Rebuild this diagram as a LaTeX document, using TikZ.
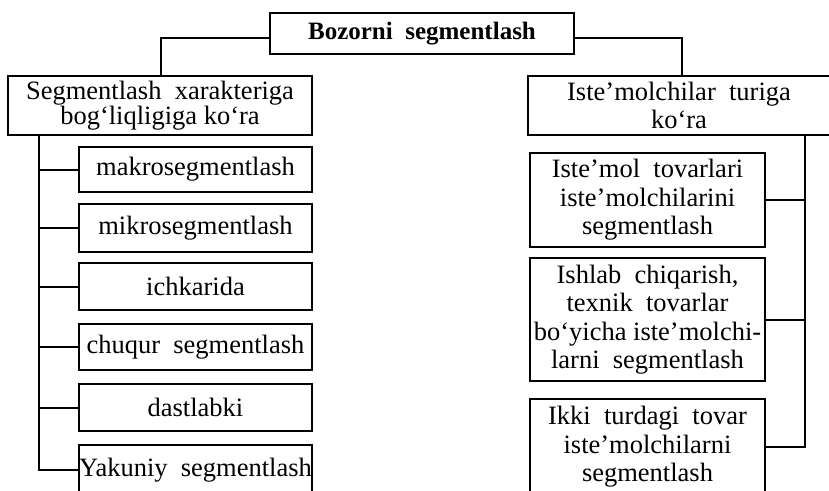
\documentclass[tikz,border=0pt]{standalone}
\usepackage{fontspec}
\setmainfont{Liberation Serif}
\begin{document}
\begin{tikzpicture}[x=1pt,y=-1pt,
  box/.style={draw,line width=2pt,inner sep=0pt,align=center,
    font=\fontsize{26.5}{25.5}\selectfont},
  rbox/.style={box,font=\fontsize{26.5}{28.5}\selectfont},
  lkid/.style={box,minimum width=233pt},
  rkid/.style={rbox,minimum width=235pt},
  conn/.style={line width=2pt}]
\useasboundingbox (0,0) rectangle (829,490);
\fill[white] (0,0) rectangle (829,490);
\node[box,minimum width=304pt,minimum height=41pt,font=\fontsize{25}{26}\selectfont\bfseries] (top) at (422,33.5) {Bozorni\ \ segmentlash};
\node[box,minimum width=304pt,minimum height=59pt] (seg) at (160,105.5) {Segmentlash\ \ xarakteriga\\bog‘liqligiga ko‘ra};
\node[rbox,minimum width=302pt,minimum height=59pt] (ist) at (679,105.5) {Iste’molchilar\ \ turiga\\ko‘ra};
\node[lkid,minimum height=45pt] (makro) at (195.5,169.5) {makrosegmentlash};
\node[lkid,minimum height=48pt] (mikro) at (195.5,228) {mikrosegmentlash};
\node[lkid,minimum height=47pt] (ichk) at (195.5,286.5) {ichkarida};
\node[lkid,minimum height=46pt] (chuq) at (195.5,347) {chuqur\ \ segmentlash};
\node[lkid,minimum height=47pt] (dast) at (195.5,407.5) {dastlabki};
\node[lkid,minimum height=50pt] (yak) at (195.5,470) {Yakuniy\ \ segmentlash};
\node[rkid,minimum height=94pt] (itov) at (647.5,200) {Iste’mol\ \ tovarlari\\iste’molchilarini\\segmentlash};
\node[rkid,minimum height=123pt] (ish) at (647.5,319.5) {Ishlab\ \ chiqarish,\\texnik\ \ tovarlar\\bo‘yicha iste’molchi-\\larni\ \ segmentlash};
\node[rkid,minimum height=96pt] (ikki) at (647.5,447) {Ikki\ \ turdagi\ \ tovar\\iste’molchilarni\\segmentlash};
\coordinate (lt) at (39,135);
\coordinate (rt) at (805,135);
\draw[conn] ([yshift=-4pt]top.west) -| ([xshift=1pt]seg.north);
\draw[conn] ([yshift=-4pt]top.east) -| ([xshift=3pt]ist.north);
\draw[conn] (lt) |- (yak.west);
\foreach \n in {makro,mikro,ichk,chuq,dast} \draw[conn] (\n.west) -- (\n.west -| lt);
\draw[conn] (rt) |- (ikki.east);
\foreach \n in {itov,ish} \draw[conn] (\n.east) -- (\n.east -| rt);
\end{tikzpicture}
\end{document}
